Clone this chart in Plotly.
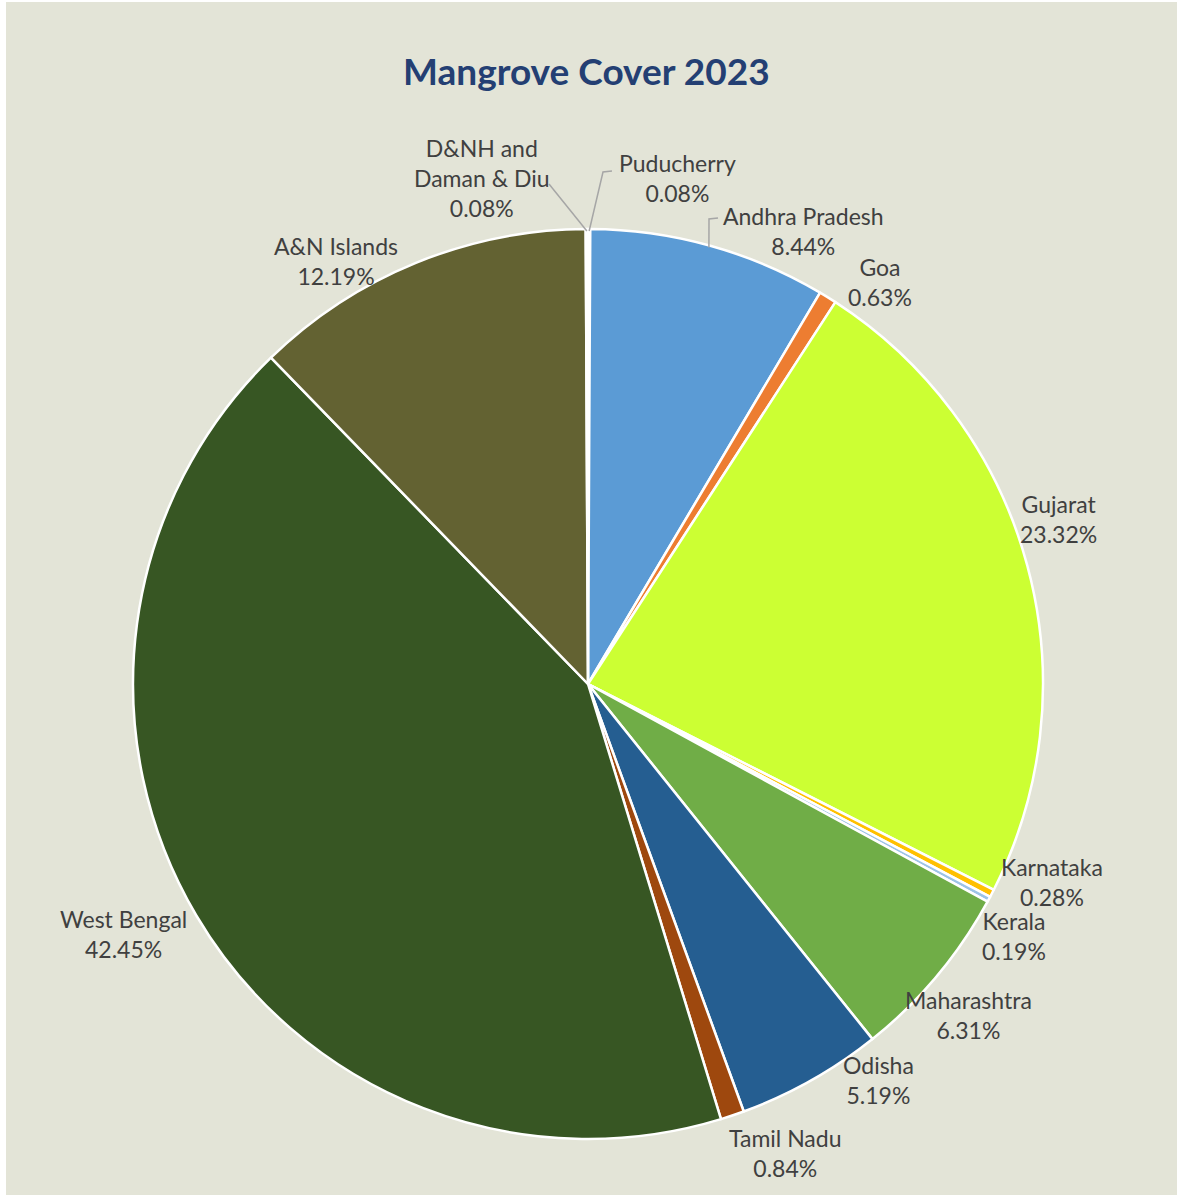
import math
import plotly.graph_objects as go

# ---- data ----
states = ["Puducherry", "Andhra Pradesh", "Goa", "Gujarat", "Karnataka", "Kerala",
          "Maharashtra", "Odisha", "Tamil Nadu", "West Bengal", "A&N Islands",
          "D&NH and Daman & Diu"]
share_pct = [0.08, 8.44, 0.63, 23.32, 0.28, 0.19, 6.31, 5.19, 0.84, 42.45, 12.19, 0.08]
label_names = ["Puducherry", "Andhra Pradesh", "Goa", "Gujarat", "Karnataka", "Kerala",
               "Maharashtra", "Odisha", "Tamil Nadu", "West Bengal", "A&N Islands",
               "D&NH and<br>Daman & Diu"]
colors = ["#a5a5a5", "#5b9bd5", "#ed7d31", "#ccff33", "#ffc000", "#9dc3e6",
          "#70ad47", "#255e91", "#9e480e", "#375623", "#636232", "#7f7f7f"]

# ---- layout geometry (pixels) ----
W, H = 1177, 1195
CX, CY, R = 588, 684, 455
BG = "#e3e4d7"
TEXT = "#404040"
FS = 23

# label centers (pixels) per slice
label_pos = {
    "Puducherry": (677, 178),
    "Andhra Pradesh": (803, 231),
    "Goa": (880, 282),
    "Gujarat": (1058, 519),
    "Karnataka": (1052, 882),
    "Kerala": (1014, 936),
    "Maharashtra": (968, 1015),
    "Odisha": (878, 1080),
    "Tamil Nadu": (785, 1153),
    "West Bengal": (123, 934),
    "A&N Islands": (336, 261),
    "D&NH and Daman & Diu": (482, 178),
}
# leader line waypoints on the label side (pixels), ending at the slice edge
leader_pts = {
    "Puducherry": [(612, 171), (603, 172)],
    "Andhra Pradesh": [(718, 218), (709, 219)],
    "D&NH and Daman & Diu": [(549, 184)],
}

def px2paper(x, y):
    return x / W, 1 - y / H

fig = go.Figure(go.Pie(
    labels=states,
    values=share_pct,
    sort=False,
    direction="clockwise",
    rotation=0,
    marker=dict(colors=colors, line=dict(color="white", width=2.5)),
    textinfo="none",
    hoverinfo="label+percent",
    domain=dict(x=[(CX - R) / W, (CX + R) / W],
                y=[(H - CY - R) / H, (H - CY + R) / H]),
    showlegend=False,
))

total = sum(share_pct)
annotations = []
shapes = [dict(type="rect", xref="paper", yref="paper", x0=6 / W, x1=1, y0=0, y1=1 - 2 / H,
               fillcolor=BG, line=dict(width=0), layer="below")]
cum = 0.0
for name, lab, v in zip(states, label_names, share_pct):
    mid = (cum + v / 2) / total * 2 * math.pi
    cum += v
    tx, ty = label_pos[name]
    px, py = px2paper(tx, ty)
    annotations.append(dict(
        x=px, y=py, xref="paper", yref="paper", xanchor="center", yanchor="middle",
        text=f"{lab}<br>{v:.2f}%", showarrow=False,
        font=dict(family="Lato", size=FS, color=TEXT), align="center",
    ))
    if name in leader_pts:
        ex = CX + (R - 2) * math.sin(mid)
        ey = CY - (R - 2) * math.cos(mid)
        pts = leader_pts[name] + [(ex, ey)]
        path = ""
        for i, (lx, ly) in enumerate(pts):
            qx, qy = px2paper(lx, ly)
            path += ("M" if i == 0 else "L") + f"{qx},{qy} "
        shapes.append(dict(type="path", xref="paper", yref="paper", path=path.strip(),
                           line=dict(color="#a6a6a6", width=1.5)))

tx, ty = px2paper(586, 70)
annotations.append(dict(
    x=tx, y=ty, xref="paper", yref="paper", xanchor="center", yanchor="middle",
    text="<b>Mangrove Cover 2023</b>", showarrow=False,
    font=dict(family="Lato", size=37, color="#243f73"),
))

fig.update_layout(
    width=W, height=H,
    margin=dict(l=0, r=0, t=0, b=0),
    paper_bgcolor="white",
    plot_bgcolor=BG,
    annotations=annotations,
    shapes=shapes,
)

fig.write_html(
    "out.html",
    config={"displayModeBar": False},
    post_script="document.body.style.margin='0';document.body.style.overflow='hidden';",
)
